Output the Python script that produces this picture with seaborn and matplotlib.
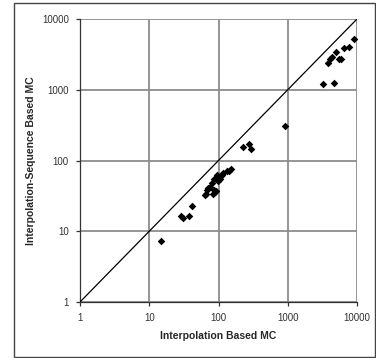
import matplotlib
matplotlib.use("Agg")
import matplotlib.pyplot as plt
import seaborn as sns
import pandas as pd
from matplotlib.patches import Rectangle

sns.set_theme(style="white")
plt.rcParams['font.family'] = ['Liberation Sans', 'DejaVu Sans']

interp_mc = [15, 29, 31, 37, 42, 64, 67, 69, 71, 75, 80, 82, 86, 89, 92, 87,
             94, 99, 105, 113, 117, 134, 143, 150, 226, 276, 298, 900,
             3230, 3850, 4100, 4360, 4600, 5030, 5500, 5870, 6430, 7740, 9140]
interp_seq_mc = [7.2, 16.4, 15.4, 16.3, 22.6, 32.5, 34, 38, 41, 42.5, 47.5, 34, 38, 36, 37, 55,
                 62, 51, 55, 62, 67, 71, 72, 76, 154, 173, 144, 310,
                 1205, 2410, 2700, 2930, 1230, 3380, 2720, 2720, 3930, 3980, 5270]
diag = [1, 10000]

df = pd.DataFrame({"x": interp_mc, "y": interp_seq_mc})
dfd = pd.DataFrame({"x": diag, "y": diag})

fig = plt.figure(figsize=(3.76, 3.58), dpi=100)
ax = fig.add_axes([80/376, 1-302/358, 277/376, 283/358])

sns.lineplot(data=dfd, x="x", y="y", ax=ax, color="black", linewidth=0.9, zorder=3)
sns.scatterplot(data=df, x="x", y="y", ax=ax, marker="D", color="black", s=15,
                linewidth=0, zorder=4)

ax.set_xscale("log")
ax.set_yscale("log")
ax.set_xlim(1, 10000)
ax.set_ylim(1, 10000)
ticks = [1, 10, 100, 1000, 10000]
labels = ["1", "10", "100", "1000", "10000"]
ax.set_xticks(ticks)
ax.set_xticklabels(labels)
ax.set_yticks(ticks)
ax.set_yticklabels(labels)
ax.minorticks_off()
ax.grid(True, color="#8c8c8c", linewidth=1.3)
ax.tick_params(axis="both", direction="out", length=3, width=0.9, color="#333333",
               labelsize=7, labelcolor="#333333", pad=5, left=True, bottom=True)
for s in ["top", "right"]:
    ax.spines[s].set_visible(False)
for s in ["left", "bottom"]:
    ax.spines[s].set_color("#333333")
    ax.spines[s].set_linewidth(0.9)
ax.set_xlabel("Interpolation Based MC", fontsize=7.5, fontweight="bold", labelpad=6)
ax.set_ylabel("Interpolation-Sequence Based MC", fontsize=7.5, fontweight="bold", labelpad=4)

fig.patches.append(Rectangle((14/376, 1-357/358), 361/376, 354/358, transform=fig.transFigure,
                             fill=False, edgecolor="#444444", linewidth=1.0))

fig.savefig("out.png", dpi=100)
